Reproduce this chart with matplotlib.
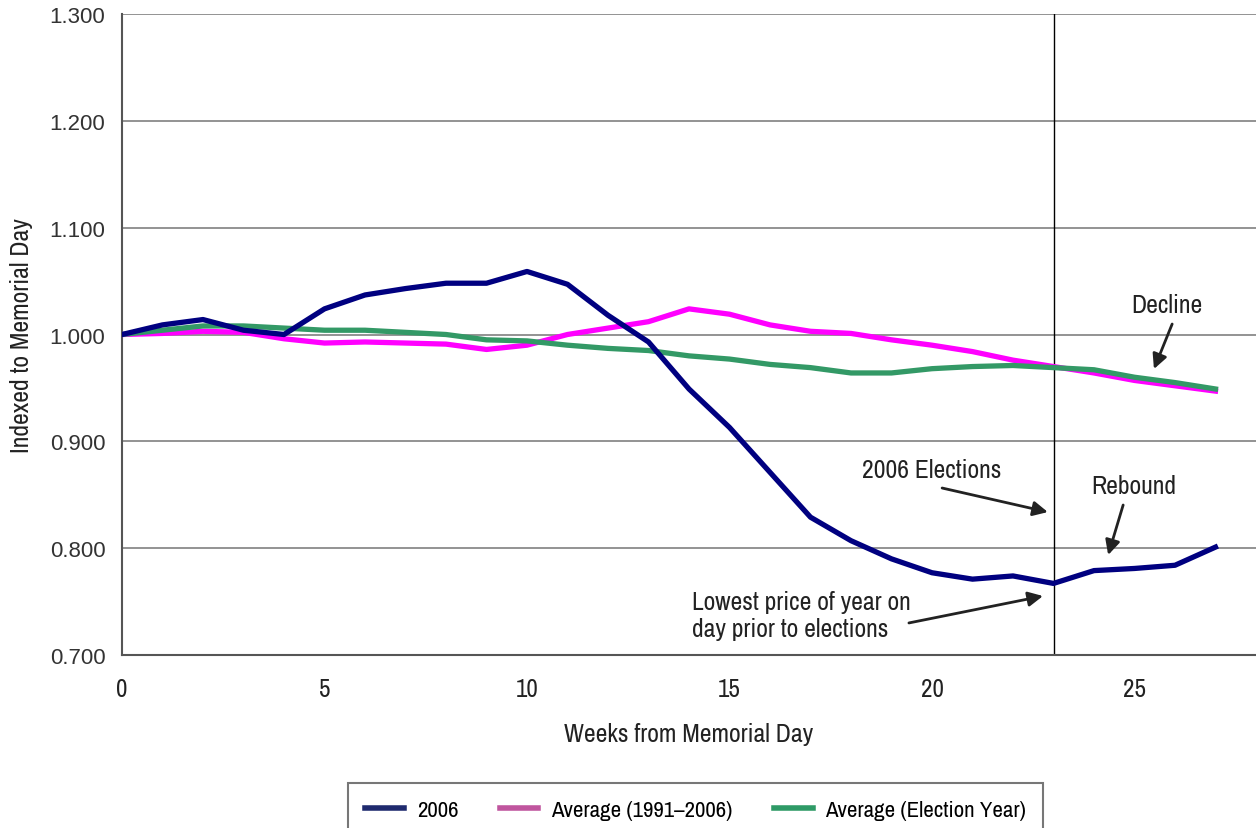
import matplotlib
matplotlib.use("Agg")
import matplotlib.pyplot as plt
from matplotlib import font_manager
import numpy as np

# look for a condensed face, otherwise fall back to an Arial-like one
names = sorted({f.name for f in font_manager.fontManager.ttflist})
narrow = [n for n in names if "Narrow" in n or "Condensed" in n]
NARROW = narrow[:1] + ["Liberation Sans", "DejaVu Sans"]

# data (weekly points, week 0 = Memorial Day)
weeks = list(range(28))
y2006 = [1.000, 1.009, 1.014, 1.004, 1.000, 1.024, 1.037, 1.043, 1.048, 1.048,
         1.059, 1.047, 1.018, 0.993, 0.949, 0.913, 0.871, 0.829, 0.807, 0.790,
         0.777, 0.771, 0.774, 0.767, 0.779, 0.781, 0.784, 0.801]
avg_all = [1.000, 1.001, 1.003, 1.002, 0.996, 0.992, 0.993, 0.992, 0.991, 0.986,
           0.990, 1.000, 1.006, 1.012, 1.024, 1.019, 1.009, 1.003, 1.001, 0.995,
           0.990, 0.984, 0.976, 0.970, 0.964, 0.957, 0.952, 0.947]
avg_elec = [1.000, 1.004, 1.008, 1.008, 1.006, 1.004, 1.004, 1.002, 1.000, 0.995,
            0.994, 0.990, 0.987, 0.985, 0.980, 0.977, 0.972, 0.969, 0.964, 0.964,
            0.968, 0.970, 0.971, 0.969, 0.967, 0.960, 0.955, 0.949]
series_names = ["2006", "Average (1991\u20132006)", "Average (Election Year)"]
election_week = 23

fig = plt.figure(figsize=(12.56, 8.29), dpi=100)
ax = fig.add_axes([122 / 1256, 1 - 656 / 829, (1256 - 122) / 1256, (656 - 15) / 829])

l1, = ax.plot(weeks, y2006, color="#000080", lw=3.8, zorder=4)
l2, = ax.plot(weeks, avg_all, color="#ff00ff", lw=3.8, zorder=3)
l3, = ax.plot(weeks, avg_elec, color="#339966", lw=3.8, zorder=3.5)

ax.axvline(election_week, color="black", lw=1.0, zorder=2)

ax.set_xlim(0, 28)
ax.set_ylim(0.7, 1.3)
yt = np.arange(0.7, 1.301, 0.1)
ax.set_yticks(yt)
ax.set_yticklabels([f"{v:.3f}" for v in yt], fontsize=16, color="#333333",
                   family="Liberation Sans")
ax.set_xticks([0, 5, 10, 15, 20, 25])
ax.set_xticklabels(["0", "5", "10", "15", "20", "25"], fontsize=18,
                   color="#222222", family=NARROW)
ax.tick_params(length=0, pad=12)
ax.tick_params(axis="x", pad=16)
ax.grid(axis="y", color="#808080", lw=1.2)
ax.set_axisbelow(True)
for s in ["top", "right"]:
    ax.spines[s].set_visible(False)
for s in ["left", "bottom"]:
    ax.spines[s].set_color("#555555")
    ax.spines[s].set_linewidth(1.5)

ax.set_xlabel("Weeks from Memorial Day", fontsize=18.5, family=NARROW,
              color="#222222", labelpad=16)
ax.set_ylabel("Indexed to Memorial Day", fontsize=18.5, family=NARROW,
              color="#222222", labelpad=12)

arrow = dict(arrowstyle="-|>", color="#222222", lw=2, mutation_scale=22,
             shrinkA=0, shrinkB=0)
txt = dict(fontsize=18.5, family=NARROW, color="#222222", va="center")

ax.text(25.8, 1.0285, "Decline", ha="center", **txt)
ax.annotate("", xy=(25.48, 0.9677), xytext=(25.93, 1.0098), arrowprops=arrow)

ax.text(20.0, 0.8732, "2006 Elections", ha="center", **txt)
ax.annotate("", xy=(22.86, 0.8338), xytext=(20.25, 0.8563), arrowprops=arrow)

ax.text(24.99, 0.8591, "Rebound", ha="center", **txt)
ax.annotate("", xy=(24.35, 0.7936), xytext=(24.72, 0.8404), arrowprops=arrow)

ax.text(14.07, 0.7374, "Lowest price of year on\nday prior to elections",
        ha="left", linespacing=1.2, **txt)
ax.annotate("", xy=(22.74, 0.7552), xytext=(19.43, 0.7300), arrowprops=arrow)

leg = fig.legend([l1, l2, l3], series_names, loc="upper left",
                 bbox_to_anchor=(348 / 1256, 1 - 784 / 829), ncol=3,
                 frameon=True, fancybox=False, edgecolor="#555555",
                 prop={"family": NARROW, "size": 16.5}, handlelength=1.7,
                 columnspacing=1.8, borderpad=0.75, borderaxespad=0,
                 handletextpad=0.55)
leg.get_frame().set_linewidth(1.5)
for h, c in zip(leg.legend_handles, ["#1f2a6e", "#c0559e", "#2e9a66"]):
    h.set_color(c)
    h.set_linewidth(4)

fig.savefig("out.png", dpi=100)
